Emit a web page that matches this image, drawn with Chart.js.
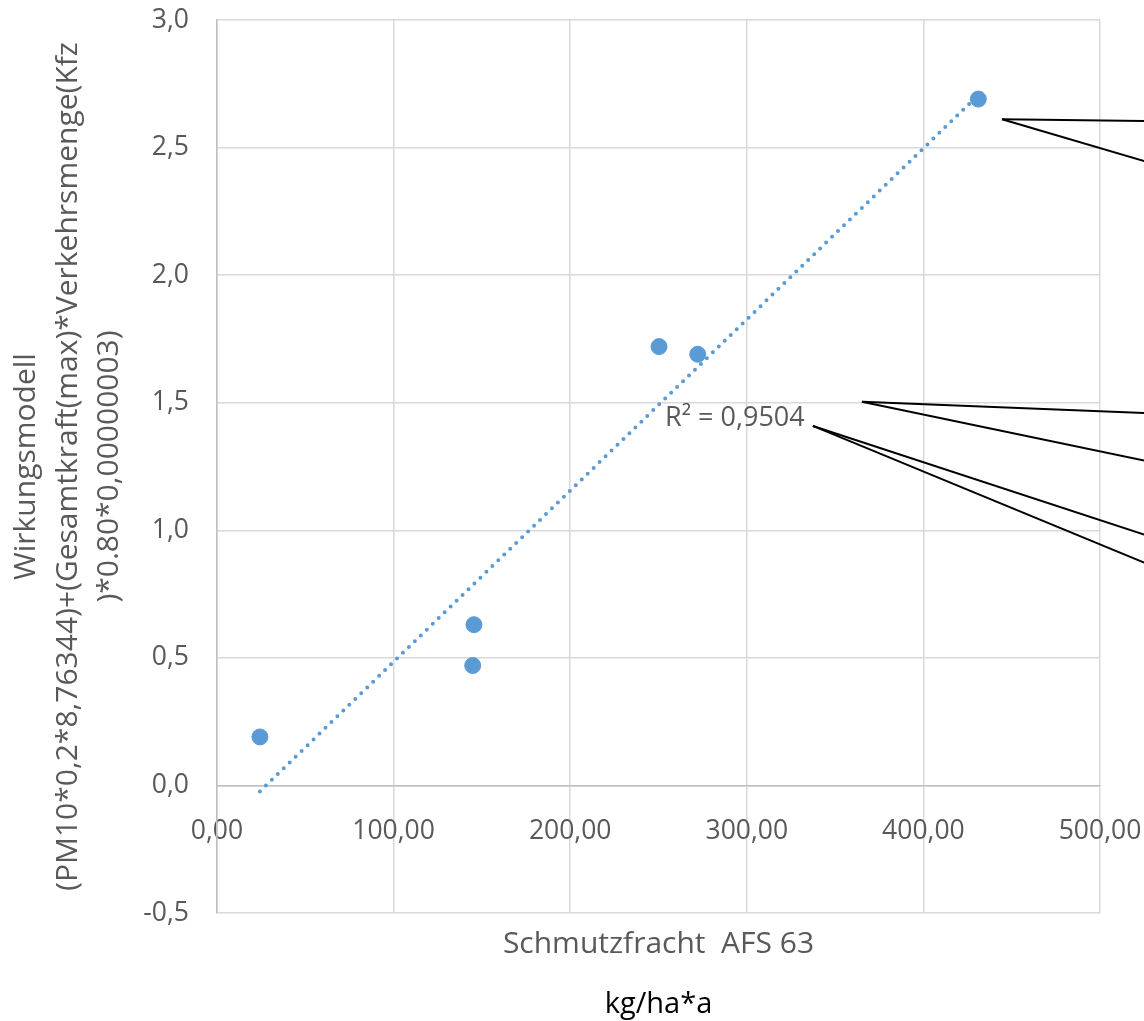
<!DOCTYPE html>
<html>
<head>
<meta charset="utf-8">
<script src="https://cdn.jsdelivr.net/npm/chart.js@4.4.1/dist/chart.umd.min.js"></script>
<style>
  html, body { margin: 0; padding: 0; background: #fff; }
  canvas { display: block; }
</style>
</head>
<body>
<canvas id="scatterChart" width="1144" height="1021"></canvas>
<script>
// Schmutzfracht AFS 63 (kg/ha*a) vs. Wirkungsmodell
const afsLoad = [24.3, 144.8, 145.5, 250.3, 272.2, 431.1];
const impactModel = [0.19, 0.47, 0.63, 1.72, 1.69, 2.69];
const xTicks = [0, 100, 200, 300, 400, 500];
const yTicks = [-0.5, 0, 0.5, 1.0, 1.5, 2.0, 2.5, 3.0];
const yTitle = ['Wirkungsmodell', '(PM10*0,2*8,76344)+(Gesamtkraft(max)*Verkehrsmenge(Kfz', ')*0.80*0,00000003)'];
const xTitle = 'Schmutzfracht  AFS 63';
const xUnit = 'kg/ha*a';
const rSquaredLabel = 'R² = 0,9504';

// leader lines of the data labels (they run off the right edge), in axis units
const leaderLines = [
    { from: [444.5, 2.611], to: [[525, 2.604], [525, 2.447]] },
    { from: [365.2, 1.504], to: [[525, 1.460], [525, 1.273]] },
    { from: [337.4, 1.409], to: [[525, 0.983], [525, 0.873]] }
];

const FONT = "'Open Sans', sans-serif";
const GREY = '#595959';

// linear trendline, least squares
const n = afsLoad.length;
const mx = afsLoad.reduce((a, b) => a + b, 0) / n;
const my = impactModel.reduce((a, b) => a + b, 0) / n;
let sxy = 0, sxx = 0;
for (let i = 0; i < n; i++) {
    sxy += (afsLoad[i] - mx) * (impactModel[i] - my);
    sxx += (afsLoad[i] - mx) * (afsLoad[i] - mx);
}
const slope = sxy / sxx;
const intercept = my - slope * mx;
const xMin = Math.min(...afsLoad);
const xMax = Math.max(...afsLoad);
const trendPoints = [
    { x: xMin, y: intercept + slope * xMin },
    { x: xMax, y: intercept + slope * xMax }
];

const overlay = {
    id: 'overlay',
    afterDraw (chart) {
        const { ctx, chartArea, scales: { x, y } } = chart;
        ctx.save();

        ctx.strokeStyle = '#000';
        ctx.lineWidth = 2;
        leaderLines.forEach(l => {
            const x0 = x.getPixelForValue(l.from[0]);
            const y0 = y.getPixelForValue(l.from[1]);
            l.to.forEach(t => {
                ctx.beginPath();
                ctx.moveTo(x0, y0);
                ctx.lineTo(x.getPixelForValue(t[0]), y.getPixelForValue(t[1]));
                ctx.stroke();
            });
        });

        ctx.fillStyle = GREY;
        ctx.font = '27px ' + FONT;
        ctx.textAlign = 'left';
        ctx.textBaseline = 'middle';
        ctx.fillText(rSquaredLabel, x.getPixelForValue(253.7), y.getPixelForValue(1.437));

        const cx = (chartArea.left + chartArea.right) / 2;
        ctx.textAlign = 'center';
        ctx.font = '30px ' + FONT;
        ctx.fillText(xTitle, cx, 944);
        ctx.fillStyle = '#000';
        ctx.font = '29px ' + FONT;
        ctx.fillText(xUnit, cx, 1005);
        ctx.restore();
    }
};

new Chart(document.getElementById('scatterChart').getContext('2d'), {
    type: 'scatter',
    data: {
        datasets: [{
            label: 'Trend',
            type: 'line',
            data: trendPoints,
            borderColor: '#5B9BD5',
            borderWidth: 4,
            borderDash: [0, 8.3],
            borderCapStyle: 'round',
            pointRadius: 0,
            fill: false,
            order: 0
        }, {
            label: 'AFS 63',
            data: afsLoad.map((v, i) => ({ x: v, y: impactModel[i] })),
            backgroundColor: '#5B9BD5',
            borderColor: '#5B9BD5',
            pointRadius: 8,
            order: 1
        }]
    },
    options: {
        responsive: false,
        animation: false,
        layout: { padding: { top: 20, right: 44, bottom: 108, left: 0 } },
        plugins: {
            legend: { display: false },
            tooltip: { enabled: false }
        },
        scales: {
            x: {
                type: 'linear',
                position: { y: 0 },
                min: 0,
                max: 500,
                afterFit: (scale) => {
                    scale.height = 0;
                    scale.paddingLeft = 0;
                    scale.paddingRight = 0;
                },
                afterBuildTicks: (scale) => { scale.ticks = xTicks.map(v => ({ value: v })); },
                ticks: {
                    color: GREY,
                    font: { family: FONT, size: 26.5 },
                    padding: 30,
                    maxRotation: 0,
                    callback: (v) => v.toFixed(2).replace('.', ',')
                },
                grid: { color: '#D9D9D9', lineWidth: 1.5, drawTicks: false },
                border: { color: '#BFBFBF', width: 1.5 }
            },
            y: {
                type: 'linear',
                min: -0.5,
                max: 3.0,
                afterFit: (scale) => {
                    scale.width = 217;
                    scale.paddingTop = 0;
                    scale.paddingBottom = 0;
                },
                afterBuildTicks: (scale) => { scale.ticks = yTicks.map(v => ({ value: v })); },
                ticks: {
                    color: GREY,
                    font: { family: FONT, size: 26.5 },
                    padding: 28,
                    callback: (v) => v.toFixed(1).replace('.', ',')
                },
                grid: { color: '#D9D9D9', lineWidth: 1.5, drawTicks: false },
                border: { color: '#BFBFBF', width: 1.5 },
                title: {
                    display: true,
                    text: yTitle,
                    color: GREY,
                    font: { family: FONT, size: 30, lineHeight: 1.38 },
                    padding: { top: 6, bottom: 0 }
                }
            }
        }
    },
    plugins: [overlay]
});
</script>
</body>
</html>
